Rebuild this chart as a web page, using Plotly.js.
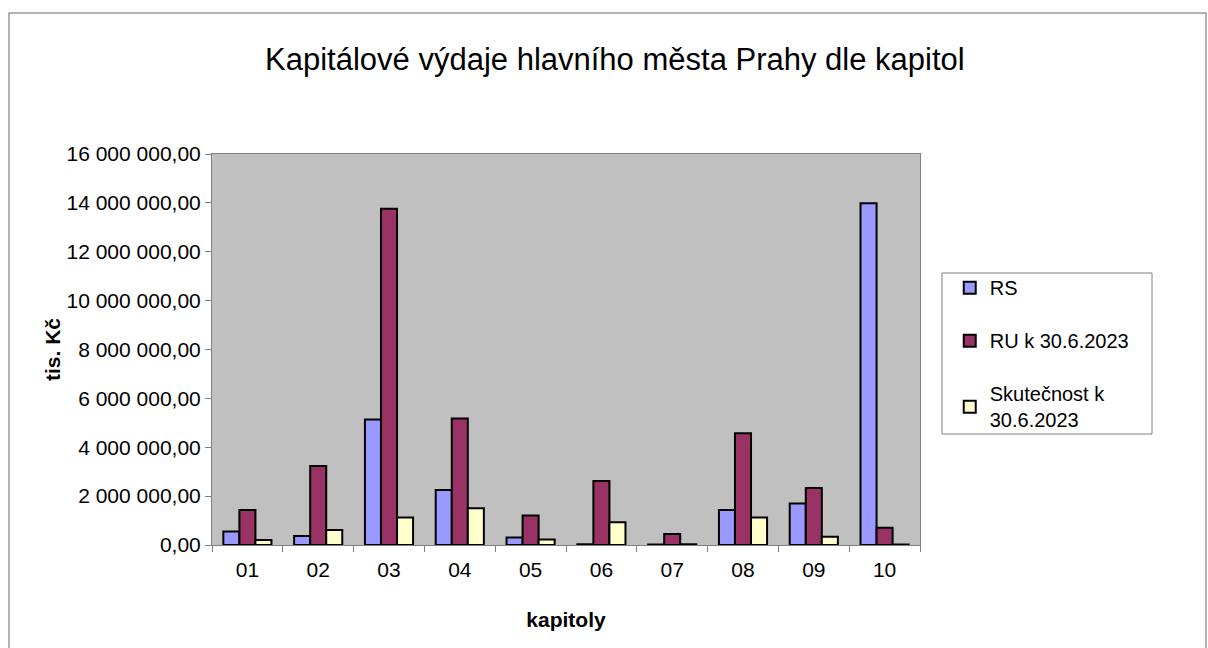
<!DOCTYPE html>
<html>
<head>
<meta charset="utf-8">
<script src="https://cdn.plot.ly/plotly-3.0.1.min.js"></script>
<style>html,body{margin:0;padding:0;background:#fff;}#chart{width:1208px;height:648px;}</style>
</head>
<body>
<div id="chart"></div>
<script>
const categories = ["01","02","03","04","05","06","07","08","09","10"];
const rs = [550000, 370000, 5140000, 2250000, 310000, 30000, 20000, 1430000, 1700000, 13980000];
const ru = [1430000, 3230000, 13760000, 5180000, 1210000, 2620000, 450000, 4570000, 2330000, 710000];
const skut = [200000, 610000, 1130000, 1500000, 230000, 930000, 30000, 1130000, 340000, 20000];
const seriesNames = ["RS", "RU k 30.6.2023", "Skutečnost k<br>30.6.2023"];
const yTicks = [0, 2000000, 4000000, 6000000, 8000000, 10000000, 12000000, 14000000, 16000000];

const font = "Liberation Sans, Arial, sans-serif";
const mk = (c) => ({color: c, line: {color: "#000000", width: 2}});
const data = [
  {type: "bar", name: seriesNames[0], x: categories, y: rs, marker: mk("#9999FF"), legendgroup: "a"},
  {type: "bar", name: seriesNames[1], x: categories, y: ru, marker: mk("#993366"), legendgroup: "b"},
  {type: "bar", name: seriesNames[2], x: categories, y: skut, marker: mk("#FFFFCC"), legendgroup: "c"}
];
const layout = {
  width: 1208, height: 648,
  margin: {l: 212, r: 288, t: 154, b: 103},
  paper_bgcolor: "#ffffff",
  plot_bgcolor: "#C0C0C0",
  separators: ", ",
  font: {family: font, size: 21, color: "#000"},
  title: {text: "Kapitálové výdaje hlavního města Prahy dle kapitol", x: 0.509, xanchor: "center", y: 0.909, yanchor: "middle", font: {family: font, size: 31, color: "#000"}},
  barmode: "group",
  bargap: 0.32,
  bargroupgap: 0,
  xaxis: {
    type: "category",
    title: {text: "<b>kapitoly</b>", font: {family: font, size: 21}, standoff: 32},
    showline: true, linecolor: "#808080", linewidth: 1, mirror: true,
    ticks: "outside", tickson: "boundaries", ticklen: 6, tickcolor: "#808080",
    ticklabelstandoff: 6,
    tickfont: {size: 21}, showgrid: false, automargin: false
  },
  yaxis: {
    title: {text: "<b>tis. Kč</b>", font: {family: font, size: 21}, standoff: 0},
    range: [0, 16000000], tickvals: yTicks, tickformat: ",.2f",
    showline: true, linecolor: "#808080", linewidth: 1, mirror: true,
    ticks: "outside", ticklen: 6, tickcolor: "#808080",
    tickfont: {size: 21}, showgrid: false, zeroline: false, automargin: false
  },
  showlegend: true,
  legend: {x: 1.042, y: 0.708, xanchor: "left", yanchor: "top", bgcolor: "rgba(0,0,0,0)", borderwidth: 0, font: {family: font, size: 20}, tracegroupgap: 24},
  shapes: [
    {type: "rect", xref: "paper", yref: "paper", x0: -0.2867, x1: 1.404, y0: -0.3, y1: 1.3606, line: {color: "#9a9a9a", width: 1.5}, layer: "below"},
    {type: "rect", xref: "paper", yref: "paper", x0: (942-212)/708, x1: (1152-212)/708, y0: (545-434)/391, y1: (545-273)/391, line: {color: "#808080", width: 1}}
  ]
};
Plotly.newPlot("chart", data, layout, {displayModeBar: false, staticPlot: true});
</script>
</body>
</html>
